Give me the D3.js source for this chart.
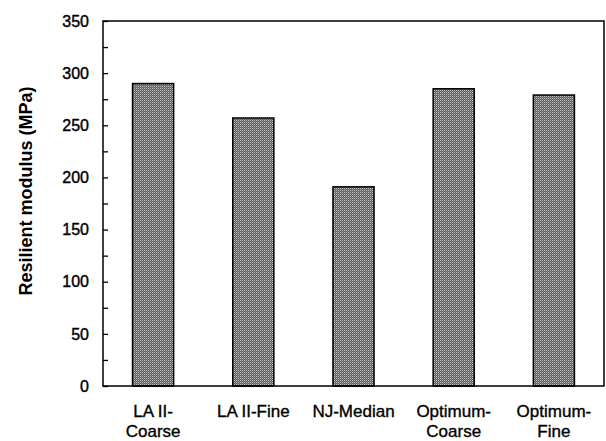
<!DOCTYPE html>
<html>
<head>
<meta charset="utf-8">
<script src="https://cdn.jsdelivr.net/npm/d3@7"></script>
<style>
  html, body { margin: 0; padding: 0; background: #fff; }
  svg { display: block; }
  text { font-family: Arial, "Liberation Sans", sans-serif; fill: #000; }
</style>
</head>
<body>
<div id="chart"></div>
<script>
// categories (each entry = label lines)
var categories = [
    ['LA II-', 'Coarse'],
    ['LA II-Fine'],
    ['NJ-Median'],
    ['Optimum-', 'Coarse'],
    ['Optimum-', 'Fine']
];
var modulus = [290, 257, 191, 285, 279];
var yTicks = [0, 50, 100, 150, 200, 250, 300, 350];
var yMinorTicks = [25, 75, 125, 175, 225, 275, 325];

var width = 606, height = 441;
var margin = { top: 21, right: 2, bottom: 55, left: 103 };

var svg = d3.select('#chart').append('svg')
    .attr('width', width)
    .attr('height', height);

// checkered fill like the original hatch
var defs = svg.append('defs');
var pat = defs.append('pattern')
    .attr('id', 'checker')
    .attr('patternUnits', 'userSpaceOnUse')
    .attr('width', 2)
    .attr('height', 2);
pat.append('rect').attr('width', 2).attr('height', 2).attr('fill', '#5a5a5a');
pat.append('rect').attr('x', 0).attr('y', 0).attr('width', 1).attr('height', 1).attr('fill', '#c8c8c8');
pat.append('rect').attr('x', 1).attr('y', 1).attr('width', 1).attr('height', 1).attr('fill', '#858585');

var x = d3.scaleBand()
    .domain(d3.range(categories.length))
    .range([margin.left, width - margin.right])
    .paddingInner(0.59)
    .paddingOuter(0.295);

var y = d3.scaleLinear()
    .domain([0, 350])
    .range([height - margin.bottom, margin.top]);

// bars
svg.append('g')
    .selectAll('rect')
    .data(modulus)
    .enter()
    .append('rect')
    .attr('x', function(d, i) { return x(i); })
    .attr('y', function(d) { return y(d); })
    .attr('width', x.bandwidth())
    .attr('height', function(d) { return y(0) - y(d); })
    .attr('fill', 'url(#checker)')
    .attr('stroke', '#000')
    .attr('stroke-width', 1.5);

// left axis, ticks pointing inward
var yAxis = d3.axisRight(y)
    .tickValues(yTicks.concat(yMinorTicks))
    .tickSize(5)
    .tickFormat('');
var yg = svg.append('g')
    .attr('transform', 'translate(' + margin.left + ',0)')
    .call(yAxis);
yg.select('.domain').remove();
yg.selectAll('line').attr('stroke', '#000').attr('stroke-width', 1.3);

// y tick labels
svg.append('g')
    .selectAll('text')
    .data(yTicks)
    .enter()
    .append('text')
    .attr('x', margin.left - 14)
    .attr('y', function(d) { return y(d); })
    .attr('dy', '0.36em')
    .attr('text-anchor', 'end')
    .attr('font-size', '16px')
    .attr('stroke', '#000')
    .attr('stroke-width', 0.4)
    .text(function(d) { return d; });

// frame
svg.append('rect')
    .attr('x', margin.left)
    .attr('y', margin.top)
    .attr('width', width - margin.right - margin.left)
    .attr('height', height - margin.bottom - margin.top)
    .attr('fill', 'none')
    .attr('stroke', '#000')
    .attr('stroke-width', 1.5);

// x category labels
var xl = svg.append('g')
    .selectAll('text')
    .data(categories)
    .enter()
    .append('text')
    .attr('text-anchor', 'middle')
    .attr('font-size', '17px')
    .attr('stroke', '#000')
    .attr('stroke-width', 0.35)
    .attr('transform', function(d, i) {
        return 'translate(' + (x(i) + x.bandwidth() / 2) + ',417)';
    });
xl.selectAll('tspan')
    .data(function(d) { return d; })
    .enter()
    .append('tspan')
    .attr('x', 0)
    .attr('y', function(d, i) { return i * 20; })
    .text(function(d) { return d; });

// y title
svg.append('text')
    .attr('transform', 'translate(32,191) rotate(-90)')
    .attr('text-anchor', 'middle')
    .attr('font-size', '18px')
    .attr('font-weight', 'bold')
    .text('Resilient modulus (MPa)');
</script>
</body>
</html>
